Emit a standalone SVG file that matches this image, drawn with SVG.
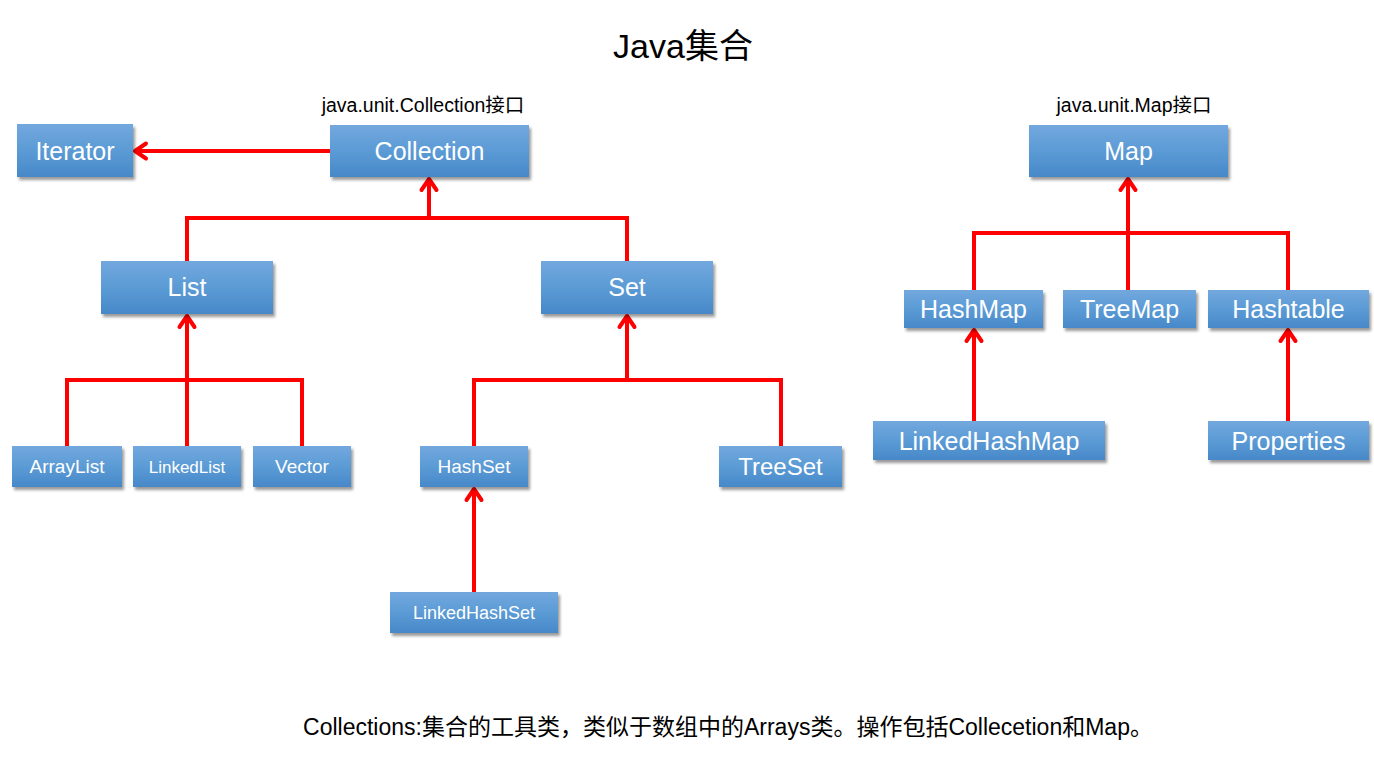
<svg xmlns="http://www.w3.org/2000/svg" width="1374" height="765" viewBox="0 0 1374 765">
<style>
.n rect{fill:url(#g);filter:url(#sh)}
.n text{fill:#fff;font-family:"Liberation Sans",Arial,sans-serif;text-anchor:middle}
.c path{fill:none;stroke:#ff0000;stroke-width:4}
.lbl{font-family:"Liberation Sans","Noto Sans CJK SC",sans-serif;fill:#000;text-anchor:middle}
</style>
<defs>
<linearGradient id="g" x1="0" y1="0" x2="0" y2="1">
<stop offset="0" stop-color="#73a8de"/>
<stop offset="0.5" stop-color="#5b9bd5"/>
<stop offset="1" stop-color="#4788c9"/>
</linearGradient>
<filter id="sh" x="-10%" y="-20%" width="130%" height="160%">
<feDropShadow dx="2" dy="3" stdDeviation="1.8" flood-color="#000" flood-opacity="0.4"/>
</filter>
<marker id="ah" markerUnits="userSpaceOnUse" markerWidth="24" markerHeight="24" viewBox="0 0 24 24" refX="14" refY="12" orient="auto" overflow="visible">
<path d="M3,4.5 L14,12 L3,19.5" fill="none" stroke="#ff0000" stroke-width="4" stroke-linecap="round" stroke-linejoin="round"/>
</marker>
</defs>
<rect width="1374" height="765" fill="#fff"/>
<text class="lbl" x="683" y="58" font-size="34">Java集合</text>
<text class="lbl" x="423" y="112" font-size="19.5">java.unit.Collection接口</text>
<text class="lbl" x="1134" y="112" font-size="19.5">java.unit.Map接口</text>
<text class="lbl" x="728" y="735" font-size="23">Collections:集合的工具类，类似于数组中的Arrays类。操作包括Collecetion和Map。</text>

<g class="c" id="connectors">
<path d="M330,151 H135" marker-end="url(#ah)"/>
<path d="M187,261 V218 H627 V261"/>
<path d="M429,218 V179" marker-end="url(#ah)"/>
<path d="M67,446 V380 H302 V446"/>
<path d="M187,446 V316" marker-end="url(#ah)"/>
<path d="M474,446 V380 H781 V446"/>
<path d="M627,380 V316" marker-end="url(#ah)"/>
<path d="M474,592 V489" marker-end="url(#ah)"/>
<path d="M974,290 V233 H1288 V290"/>
<path d="M1128,290 V179" marker-end="url(#ah)"/>
<path d="M974,421 V330" marker-end="url(#ah)"/>
<path d="M1288,421 V330" marker-end="url(#ah)"/>
</g>

<g class="n" id="Iterator"><rect x="17" y="124" width="116" height="53"/><text x="75" y="159.5" font-size="25">Iterator</text></g>
<g class="n" id="Collection"><rect x="330" y="125" width="199" height="52"/><text x="429.5" y="160" font-size="25">Collection</text></g>
<g class="n" id="List"><rect x="101" y="261" width="172" height="53"/><text x="187" y="296" font-size="25">List</text></g>
<g class="n" id="Set"><rect x="541" y="261" width="172" height="53"/><text x="627" y="296" font-size="25">Set</text></g>
<g class="n" id="ArrayList"><rect x="12" y="446" width="110" height="41"/><text x="67" y="473" font-size="19">ArrayList</text></g>
<g class="n" id="LinkedList"><rect x="133" y="446" width="108" height="41"/><text x="187" y="472.5" font-size="17">LinkedList</text></g>
<g class="n" id="Vector"><rect x="253" y="446" width="98" height="41"/><text x="302" y="473" font-size="19">Vector</text></g>
<g class="n" id="HashSet"><rect x="420" y="446" width="108" height="41"/><text x="474" y="473" font-size="19">HashSet</text></g>
<g class="n" id="TreeSet"><rect x="719" y="446" width="123" height="41"/><text x="780.5" y="475" font-size="24">TreeSet</text></g>
<g class="n" id="LinkedHashSet"><rect x="390" y="592" width="168" height="41"/><text x="474" y="618.5" font-size="18">LinkedHashSet</text></g>
<g class="n" id="Map"><rect x="1029" y="125" width="199" height="52"/><text x="1128.5" y="160" font-size="25">Map</text></g>
<g class="n" id="HashMap"><rect x="904" y="290" width="139" height="38"/><text x="973.5" y="318" font-size="25">HashMap</text></g>
<g class="n" id="TreeMap"><rect x="1063" y="290" width="133" height="38"/><text x="1129.5" y="318" font-size="25">TreeMap</text></g>
<g class="n" id="Hashtable"><rect x="1208" y="290" width="161" height="38"/><text x="1288.5" y="318" font-size="25">Hashtable</text></g>
<g class="n" id="LinkedHashMap"><rect x="873" y="421" width="232" height="39"/><text x="989" y="449.5" font-size="25">LinkedHashMap</text></g>
<g class="n" id="Properties"><rect x="1208" y="421" width="161" height="39"/><text x="1288.5" y="449.5" font-size="25">Properties</text></g>
</svg>
